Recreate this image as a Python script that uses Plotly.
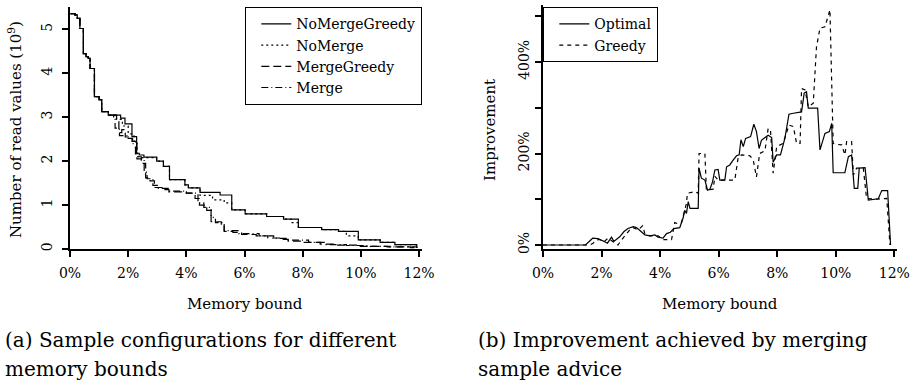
import plotly.graph_objects as go

# ---------------- data: panel (a) ----------------
# memory bound (%) where each level starts, and number of read values (10^9)
nmg_x = [0.02, 0.17, 0.25, 0.34, 0.46, 0.55, 0.63, 0.69, 0.84, 1.00, 1.09, 1.32, 1.74, 1.89, 2.13,
         2.29, 2.38, 2.54, 2.98, 3.21, 3.42, 3.95, 4.07, 4.47, 5.16, 5.56, 6.02, 6.76, 7.34, 7.85,
         8.65, 9.23, 9.91, 10.66, 11.17, 11.92]
nmg_y = [5.36, 5.33, 5.25, 5.02, 4.45, 4.38, 4.34, 4.11, 3.47, 3.40, 3.13, 3.05, 2.98, 2.85, 2.56,
         2.18, 2.14, 2.09, 2.00, 1.88, 1.58, 1.46, 1.39, 1.29, 1.23, 0.89, 0.80, 0.74, 0.68, 0.49,
         0.44, 0.40, 0.21, 0.15, 0.10, 0.02]

nm_x = [0.02, 0.17, 0.25, 0.34, 0.46, 0.55, 0.63, 0.69, 0.84, 1.00, 1.09, 1.32, 1.60, 1.80, 2.00,
        2.20, 2.30, 2.40, 2.98, 3.21, 3.42, 3.95, 4.07, 4.47, 4.90, 5.30, 5.56, 6.02, 6.76, 7.34,
        7.60, 7.85, 8.65, 9.23, 9.50, 9.91, 10.66, 11.17, 11.92]
nm_y = [5.36, 5.33, 5.25, 5.02, 4.45, 4.38, 4.34, 4.11, 3.47, 3.40, 3.13, 3.05, 2.95, 2.80, 2.62,
        2.45, 2.10, 2.08, 2.00, 1.88, 1.58, 1.46, 1.39, 1.22, 1.12, 1.05, 0.89, 0.80, 0.74, 0.68,
        0.60, 0.49, 0.44, 0.40, 0.30, 0.21, 0.15, 0.10, 0.02]

mg_x = [0.02, 0.17, 0.25, 0.34, 0.46, 0.55, 0.63, 0.69, 0.84, 1.00, 1.09, 1.32, 1.60, 1.68, 1.78,
        1.90, 2.13, 2.25, 2.45, 2.60, 2.75, 2.90, 3.20, 3.40, 4.00, 4.30, 4.45, 4.70, 4.85, 5.20,
        5.30, 5.60, 5.90, 6.40, 6.80, 7.30, 7.50, 8.00, 8.60, 9.20, 9.90, 10.90, 11.70, 11.92]
mg_y = [5.36, 5.33, 5.25, 5.02, 4.45, 4.38, 4.34, 4.11, 3.47, 3.40, 3.13, 3.05, 2.90, 2.65, 2.72,
        2.55, 2.45, 2.10, 1.95, 1.62, 1.55, 1.40, 1.35, 1.30, 1.27, 1.15, 1.00, 0.88, 0.62, 0.55,
        0.40, 0.38, 0.33, 0.30, 0.25, 0.22, 0.18, 0.15, 0.11, 0.09, 0.06, 0.05, 0.03, 0.02]

m_x = [0.02, 0.17, 0.25, 0.34, 0.46, 0.55, 0.63, 0.69, 0.84, 1.00, 1.09, 1.32, 1.50, 1.55, 1.70,
       2.00, 2.15, 2.30, 2.55, 2.65, 2.85, 3.00, 3.40, 4.00, 4.40, 4.60, 4.85, 5.00, 5.30, 5.80,
       6.50, 7.00, 7.50, 8.20, 8.80, 9.50, 10.20, 11.00, 11.92]
m_y = [5.36, 5.33, 5.25, 5.02, 4.45, 4.38, 4.34, 4.11, 3.47, 3.40, 3.13, 3.05, 2.95, 2.75, 2.58,
       2.52, 2.40, 2.05, 1.75, 1.60, 1.45, 1.38, 1.32, 1.27, 1.05, 0.95, 0.72, 0.60, 0.42, 0.35,
       0.30, 0.24, 0.20, 0.15, 0.10, 0.08, 0.06, 0.05, 0.02]

# ---------------- data: panel (b) ----------------
opt_x = [0.00, 1.45, 1.65, 1.70, 1.88, 2.00, 2.11, 2.20, 2.34, 2.42, 2.51, 2.62, 2.76, 2.90, 3.08,
         3.19, 3.36, 3.48, 3.65, 3.82, 3.93, 4.10, 4.22, 4.35, 4.47, 4.67, 4.79, 4.84, 4.90, 4.96,
         5.02, 5.30, 5.33, 5.41, 5.53, 5.62, 5.70, 5.79, 5.87, 5.98, 6.04, 6.21, 6.27, 6.38, 6.50,
         6.61, 6.70, 6.76, 6.84, 6.92, 7.09, 7.20, 7.29, 7.38, 7.46, 7.58, 7.69, 7.81, 7.86, 7.98,
         8.11, 8.26, 8.40, 8.55, 8.83, 8.92, 9.00, 9.06, 9.38, 9.46, 9.63, 9.78, 9.86, 9.91, 10.31,
         10.43, 10.54, 10.63, 10.75, 10.80, 11.00, 11.11, 11.28, 11.45, 11.57, 11.77, 11.87]
opt_y = [0, 0, 12, 15, 14, 11, 7, 4, 17, 8, 12, 18, 29, 36, 40,
         38, 29, 22, 20, 22, 17, 15, 25, 28, 36, 38, 60, 76, 69, 95,
         80, 80, 168, 146, 142, 120, 122, 138, 164, 165, 142, 142, 171, 175, 186,
         195, 197, 230, 215, 233, 237, 264, 248, 211, 229, 235, 240, 235, 181, 197,
         197, 233, 286, 288, 291, 332, 335, 299, 299, 208, 244, 248, 266, 158, 158,
         193, 197, 124, 124, 168, 169, 98, 100, 101, 119, 119, 0]

gr_x = [0.00, 1.60, 1.71, 1.82, 1.94, 2.08, 2.22, 2.39, 2.56, 2.68, 2.85, 2.96, 3.08, 3.25, 3.40,
        3.48, 3.65, 3.93, 4.10, 4.39, 4.50, 4.62, 4.73, 4.90, 4.93, 5.19, 5.30, 5.33, 5.53, 5.58,
        5.81, 5.87, 5.98, 6.27, 6.55, 6.67, 6.78, 7.07, 7.18, 7.29, 7.40, 7.58, 7.69, 7.77, 7.86,
        7.98, 8.20, 8.40, 8.55, 8.66, 8.78, 8.83, 8.95, 9.06, 9.23, 9.34, 9.46, 9.63, 9.80, 9.91,
        10.03, 10.20, 10.31, 10.37, 10.54, 10.60, 10.71, 10.94, 11.05, 11.34, 11.62, 11.74, 11.85]
gr_y = [0, 0, 4, 11, 12, 7, 15, 7, 0, 11, 25, 33, 38, 33, 42,
        25, 20, 20, 12, 12, 49, 46, 49, 91, 113, 117, 113, 200, 200, 120,
        122, 150, 142, 142, 142, 193, 197, 195, 186, 149, 200, 206, 255, 251, 157,
        215, 222, 262, 259, 222, 222, 342, 339, 302, 310, 433, 474, 477, 514, 222,
        220, 219, 197, 226, 226, 153, 168, 168, 102, 100, 102, 102, 0]

# tick labels
x_ticks = [0, 2, 4, 6, 8, 10, 12]
x_labels = ["0%", "2%", "4%", "6%", "8%", "10%", "12%"]
ya_ticks = [0, 1, 2, 3, 4, 5]
ya_labels = ["0", "1", "2", "3", "4", "5"]
yb_ticks = [0, 200, 400]
yb_labels = ["0%", "200%", "400%"]

# ---------------- figure ----------------
W, H = 917, 385
FONT = "DejaVu Serif"


def px(v):
    return v / W


def py(v):
    return 1 - v / H


fig = go.Figure()
lw = 1.2
fig.add_trace(go.Scatter(x=nmg_x, y=nmg_y, mode="lines", name="NoMergeGreedy", line_shape="hv",
                         line=dict(color="black", width=lw), xaxis="x", yaxis="y", legend="legend"))
fig.add_trace(go.Scatter(x=nm_x, y=nm_y, mode="lines", name="NoMerge", line_shape="hv",
                         line=dict(color="black", width=lw, dash="2px,3px"), xaxis="x", yaxis="y",
                         legend="legend"))
fig.add_trace(go.Scatter(x=mg_x, y=mg_y, mode="lines", name="MergeGreedy", line_shape="hv",
                         line=dict(color="black", width=lw, dash="8px,4px"), xaxis="x", yaxis="y",
                         legend="legend"))
fig.add_trace(go.Scatter(x=m_x, y=m_y, mode="lines", name="Merge", line_shape="hv",
                         line=dict(color="black", width=lw, dash="7px,3px,1px,3px"), xaxis="x", yaxis="y",
                         legend="legend"))

fig.add_trace(go.Scatter(x=opt_x, y=opt_y, mode="lines", name="Optimal",
                         line=dict(color="black", width=lw), xaxis="x2", yaxis="y2", legend="legend2"))
fig.add_trace(go.Scatter(x=gr_x, y=gr_y, mode="lines", name="Greedy",
                         line=dict(color="black", width=lw, dash="4px,4px"), xaxis="x2", yaxis="y2",
                         legend="legend2"))

axis_common = dict(showgrid=False, zeroline=False, showline=True, linecolor="black", linewidth=2,
                   ticks="outside", ticklen=6, tickwidth=1.5, tickcolor="black",
                   tickfont=dict(family=FONT, size=14, color="black"), automargin=False)

fig.update_layout(
    width=W, height=H,
    margin=dict(l=0, r=0, t=0, b=0),
    paper_bgcolor="white", plot_bgcolor="white",
    font=dict(family=FONT, color="black"),
    xaxis=dict(domain=[px(70), px(422)], range=[0, 12.1], tickvals=x_ticks, ticktext=x_labels,
               ticklabelstandoff=4, anchor="y", **axis_common),
    yaxis=dict(domain=[py(249), py(7)], range=[0, 5.51], tickvals=ya_ticks, ticktext=ya_labels,
               tickangle=-90, ticklabelstandoff=4, anchor="x", **axis_common),
    xaxis2=dict(domain=[px(543), px(897)], range=[0, 12.09], tickvals=x_ticks, ticktext=x_labels,
                ticklabelstandoff=4, anchor="y2", **axis_common),
    yaxis2=dict(domain=[py(249), py(5)], range=[-8.7, 524.6], tickvals=yb_ticks, ticktext=yb_labels,
                tickangle=-90, anchor="x2",
                minor=dict(dtick=100, tick0=0, ticks="outside", ticklen=6, tickwidth=1.5,
                           tickcolor="black", showgrid=False),
                **axis_common),
    legend=dict(x=px(422), xanchor="right", y=py(7), yanchor="top", bgcolor="white",
                bordercolor="black", borderwidth=1.3, indentation=10,
                font=dict(family=FONT, size=14, color="black")),
    legend2=dict(x=px(543), xanchor="left", y=py(7), yanchor="top", bgcolor="white",
                 bordercolor="black", borderwidth=1.3, indentation=10,
                 font=dict(family=FONT, size=14, color="black")),
    showlegend=True,
)

ann = []
title_font = dict(family=FONT, size=15, color="black")
ann.append(dict(text="Memory bound", x=px(245), y=py(304), xref="paper", yref="paper",
                showarrow=False, font=title_font, xanchor="center", yanchor="middle"))
ann.append(dict(text="Memory bound", x=px(720), y=py(304), xref="paper", yref="paper",
                showarrow=False, font=title_font, xanchor="center", yanchor="middle"))
ann.append(dict(text="Number of read values (10<sup>9</sup>)", x=px(15), y=py(130), xref="paper",
                yref="paper", showarrow=False, font=title_font, textangle=-90,
                xanchor="center", yanchor="middle"))
ann.append(dict(text="Improvement", x=px(490), y=py(130), xref="paper", yref="paper",
                showarrow=False, font=title_font, textangle=-90, xanchor="center", yanchor="middle"))

cap_font = dict(family=FONT, size=20, color="black")
captions = [("(a) Sample configurations for different", 3, 340),
            ("memory bounds", 3, 369),
            ("(b) Improvement achieved by merging", 476, 340),
            ("sample advice", 476, 369)]
for t, x0, y0 in captions:
    ann.append(dict(text=t, x=px(x0), y=py(y0), xref="paper", yref="paper", showarrow=False,
                    font=cap_font, xanchor="left", yanchor="middle"))
fig.update_layout(annotations=ann)

fig.write_html("out.html")
